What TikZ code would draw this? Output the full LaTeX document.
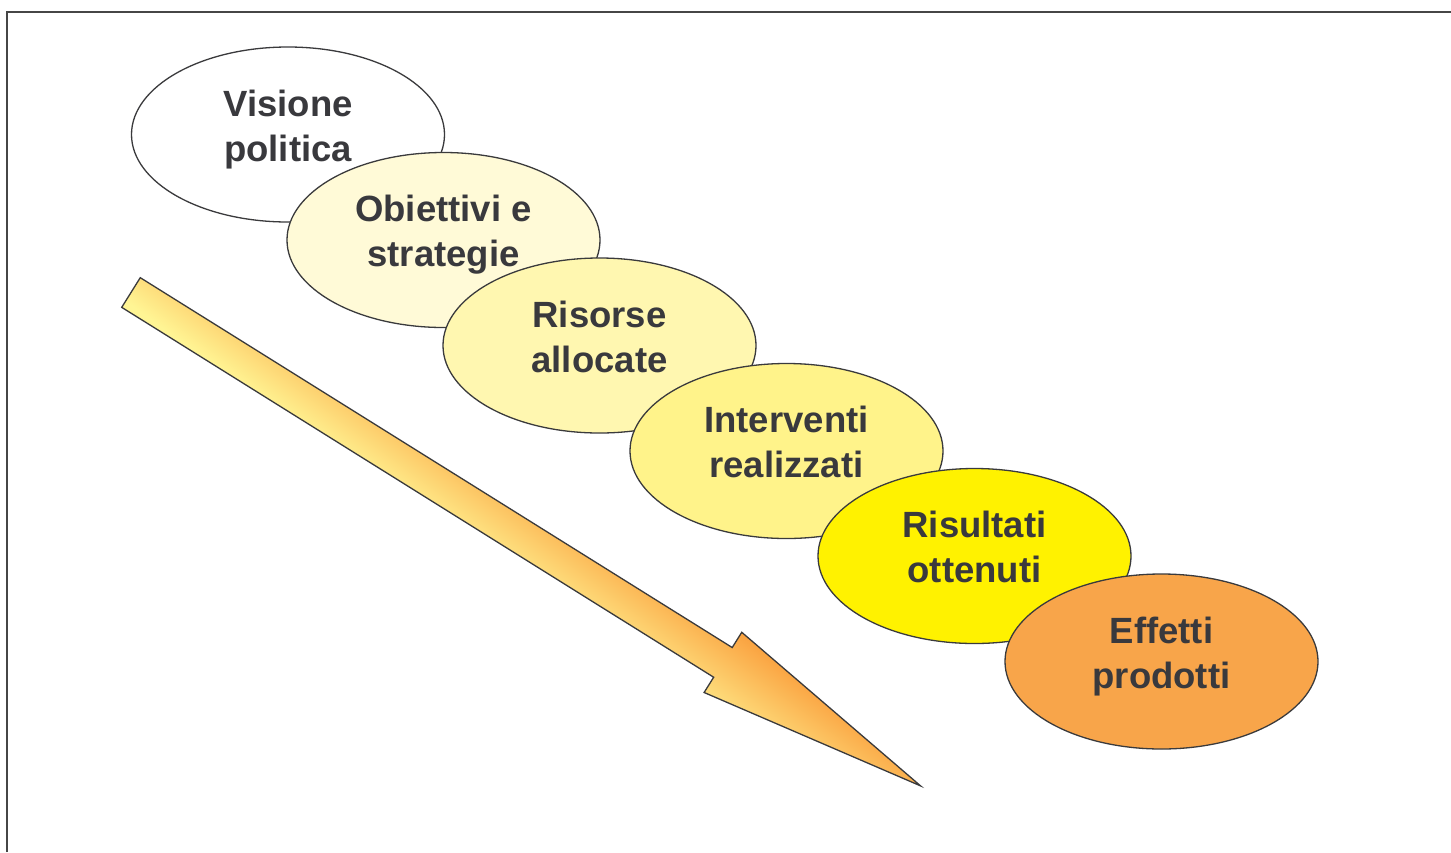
\documentclass[tikz,border=0pt]{standalone}
\usepackage{fontspec}
\setmainfont{Liberation Sans}
\usetikzlibrary{shapes.geometric}
\definecolor{txt}{RGB}{57,57,61}
\definecolor{edge}{RGB}{58,58,60}
\definecolor{frame}{RGB}{70,70,70}
\definecolor{c1}{RGB}{255,255,255}
\definecolor{c2}{RGB}{255,250,215}
\definecolor{c3}{RGB}{255,247,176}
\definecolor{c4}{RGB}{255,243,138}
\definecolor{c5}{RGB}{255,242,0}
\definecolor{c6}{RGB}{248,165,74}
\definecolor{arrlight}{RGB}{255,245,148}
\definecolor{arrdark}{RGB}{250,160,62}
\begin{document}
\begin{tikzpicture}[x=1pt,y=-1pt,
  bubble/.style={ellipse, draw=edge, line width=1.3pt, minimum width=313pt, minimum height=175pt, inner sep=0pt},
  lbl/.style={font=\bfseries\fontsize{36.5}{45}\selectfont, text=txt, align=center, inner sep=0pt},
  arrowshade/.style={bottom color=arrlight, top color=arrdark},
  arrowline/.style={draw=edge, line width=1.3pt, line join=miter}]
\useasboundingbox (0,0) rectangle (1451,852);
\fill[white] (0,0) rectangle (1451,852);
\draw[line width=2pt, color=frame] (7,852) -- (7,12) -- (1451,12);

\begin{scope}[transform canvas={shift={(131,292.5)}, rotate=-32}]
  \begin{scope}
    \clip (0,-17.5) -- (698,-17.5) -- (698,-35.5) -- (931,0) -- (698,35.5) -- (698,17.5) -- (0,17.5) -- cycle;
    \begin{scope}[transform canvas={rotate=-4.3}]
      \fill[arrlight] (-100,300) rectangle (1100,0);
      \fill[arrdark] (-100,-80) rectangle (1100,-300);
      \shade[arrowshade] (-100,10) rectangle (1100,-89.7);
    \end{scope}
  \end{scope}
  \draw[arrowline] (0,-17.5) -- (698,-17.5) -- (698,-35.5) -- (931,0) -- (698,35.5) -- (698,17.5) -- (0,17.5) -- cycle;
\end{scope}

\node[bubble, fill=c1] (e1) at (288,134.5) {};
\node[lbl] (t1) at ([yshift=5pt]e1.center) {\strut Visione\\\strut politica};
\node[bubble, fill=c2] (e2) at (443.5,240) {};
\node[lbl] (t2) at ([yshift=5pt]e2.center) {\strut Obiettivi e\\\strut strategie};
\node[bubble, fill=c3] (e3) at (599.5,345.5) {};
\node[lbl] (t3) at ([yshift=5pt]e3.center) {\strut Risorse\\\strut allocate};
\node[bubble, fill=c4] (e4) at (786.5,451) {};
\node[lbl] (t4) at ([yshift=5pt]e4.center) {\strut Interventi\\\strut realizzati};
\node[bubble, fill=c5] (e5) at (974.5,556) {};
\node[lbl] (t5) at ([yshift=5pt]e5.center) {\strut Risultati\\\strut ottenuti};
\node[bubble, fill=c6] (e6) at (1161.5,661.5) {};
\node[lbl] (t6) at ([yshift=5pt]e6.center) {\strut Effetti\\\strut prodotti};
\end{tikzpicture}
\end{document}
